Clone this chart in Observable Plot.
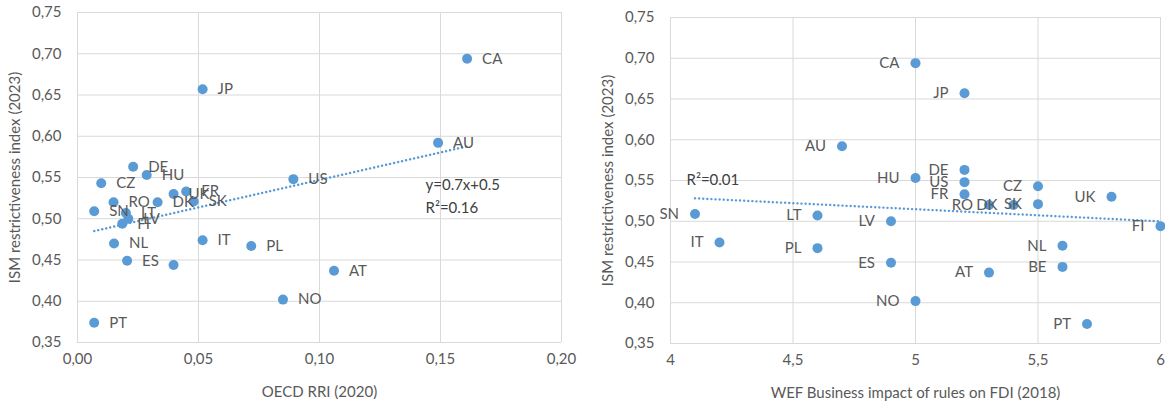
<!DOCTYPE html>
<html>
<head>
<meta charset="utf-8">
<script src="https://cdn.jsdelivr.net/npm/d3@7"></script>
<script src="https://cdn.jsdelivr.net/npm/@observablehq/plot@0.6"></script>
<style>
  html, body { margin: 0; padding: 0; background: #fff; }
  #wrap { display: flex; width: 1165px; height: 403px; overflow: hidden; }
  #wrap svg { display: block; }
</style>
</head>
<body>
<div id="wrap"></div>
<script>
// ---- data ----
const countries = ["CA","JP","AU","US","DE","HU","CZ","UK","FR","RO","DK","SK","SN","LT","LV","FI","NL","IT","PL","ES","BE","AT","NO","PT"];
const ismIndex  = [0.694,0.657,0.592,0.548,0.563,0.553,0.543,0.530,0.533,0.520,0.520,0.521,0.509,0.507,0.500,0.494,0.470,0.474,0.467,0.449,0.444,0.437,0.402,0.374];
const oecdRri   = [0.161,0.0517,0.149,0.0892,0.023,0.0286,0.0098,0.0397,0.0449,0.0149,0.0331,0.048,0.0069,0.020,0.021,0.0185,0.0151,0.0517,0.0718,0.0205,0.0397,0.106,0.0849,0.0069];
const wefFdi    = [5.0,5.2,4.7,5.2,5.2,5.0,5.5,5.8,5.2,5.3,5.4,5.5,4.1,4.6,4.9,6.0,5.6,4.2,4.6,4.9,5.6,5.3,5.0,5.7];
const hiddenLeftLabels = ["BE"];

const yTicks      = [0.35,0.40,0.45,0.50,0.55,0.60,0.65,0.70,0.75];
const xTicksLeft  = [0,0.05,0.10,0.15,0.20];
const xTicksRight = [4,4.5,5,5.5,6];

const yTitle      = "ISM restrictiveness index (2023)";
const xTitleLeft  = "OECD RRI (2020)";
const xTitleRight = "WEF Business impact of rules on FDI (2018)";
const eqLeft      = "y=0.7x+0.5";
const r2Left      = "R²=0.16";
const r2Right     = "R²=0.01";

// ---- styling ----
const BLUE = "#5b9bd5";
const GRID = "#d9d9d9";
const TXT  = "#595959";
const FONT = "Lato, 'Open Sans', 'DejaVu Sans', sans-serif";
const FS = 15;

const rows = countries.map((c, i) => ({c, y: ismIndex[i], xl: oecdRri[i], xr: wefFdi[i]}));
const comma2 = d => d.toFixed(2).replace(".", ",");
const commaR = d => String(d).replace(".", ",");

const trend = {ci: 0, stroke: BLUE, strokeWidth: 2.4, strokeDasharray: "0.1,4", strokeLinecap: "round"};

const left = Plot.plot({
  width: 580, height: 403,
  marginLeft: 77, marginRight: 19, marginTop: 12, marginBottom: 61,
  style: {fontFamily: FONT, fontSize: FS + "px", color: TXT, background: "#fff", overflow: "visible"},
  x: {domain: [0, 0.2]},
  y: {domain: [0.35, 0.75]},
  marks: [
    Plot.gridX(xTicksLeft, {stroke: GRID, strokeOpacity: 1}),
    Plot.gridY(yTicks, {stroke: GRID, strokeOpacity: 1}),
    Plot.axisX(xTicksLeft, {tickFormat: comma2, tickSize: 0, tickPadding: 11, fontSize: FS,
      label: xTitleLeft, labelAnchor: "center", labelOffset: 54, labelArrow: "none"}),
    Plot.axisY(yTicks, {tickFormat: comma2, tickSize: 0, tickPadding: 16, fontSize: FS,
      label: yTitle, labelAnchor: "center", labelOffset: 68, labelArrow: "none"}),
    Plot.linearRegressionY(rows, {x: "xl", y: "y", ...trend}),
    Plot.dot(rows, {x: "xl", y: "y", r: 5, fill: BLUE}),
    Plot.text(rows.filter(d => !hiddenLeftLabels.includes(d.c)), {x: "xl", y: "y", text: "c", dx: 15, textAnchor: "start", fill: TXT, fontSize: FS}),
    Plot.text([eqLeft], {frameAnchor: "top-left", dx: 348, dy: 167, textAnchor: "start", fill: "#404040", fontSize: FS}),
    Plot.text([r2Left], {frameAnchor: "top-left", dx: 348, dy: 190, textAnchor: "start", fill: "#404040", fontSize: FS})
  ]
});

const right = Plot.plot({
  width: 585, height: 403,
  marginLeft: 90, marginRight: 5, marginTop: 17, marginBottom: 60,
  style: {fontFamily: FONT, fontSize: FS + "px", color: TXT, background: "#fff", overflow: "visible"},
  x: {domain: [4, 6]},
  y: {domain: [0.35, 0.75]},
  marks: [
    Plot.gridX(xTicksRight, {stroke: GRID, strokeOpacity: 1}),
    Plot.gridY(yTicks, {stroke: GRID, strokeOpacity: 1}),
    Plot.axisX(xTicksRight, {tickFormat: commaR, tickSize: 0, tickPadding: 11, fontSize: FS,
      label: xTitleRight, labelAnchor: "center", labelOffset: 54, labelArrow: "none"}),
    Plot.axisY(yTicks, {tickFormat: comma2, tickSize: 0, tickPadding: 16, fontSize: FS,
      label: yTitle, labelAnchor: "center", labelOffset: 68, labelArrow: "none"}),
    Plot.linearRegressionY(rows, {x: "xr", y: "y", ...trend}),
    Plot.dot(rows, {x: "xr", y: "y", r: 5, fill: BLUE}),
    Plot.text(rows, {x: "xr", y: "y", text: "c", dx: -16, textAnchor: "end", fill: TXT, fontSize: FS}),
    Plot.text([r2Right], {frameAnchor: "top-left", dx: 16, dy: 157, textAnchor: "start", fill: "#404040", fontSize: FS})
  ]
});

const wrap = document.getElementById("wrap");
wrap.appendChild(left);
wrap.appendChild(right);
</script>
</body>
</html>
